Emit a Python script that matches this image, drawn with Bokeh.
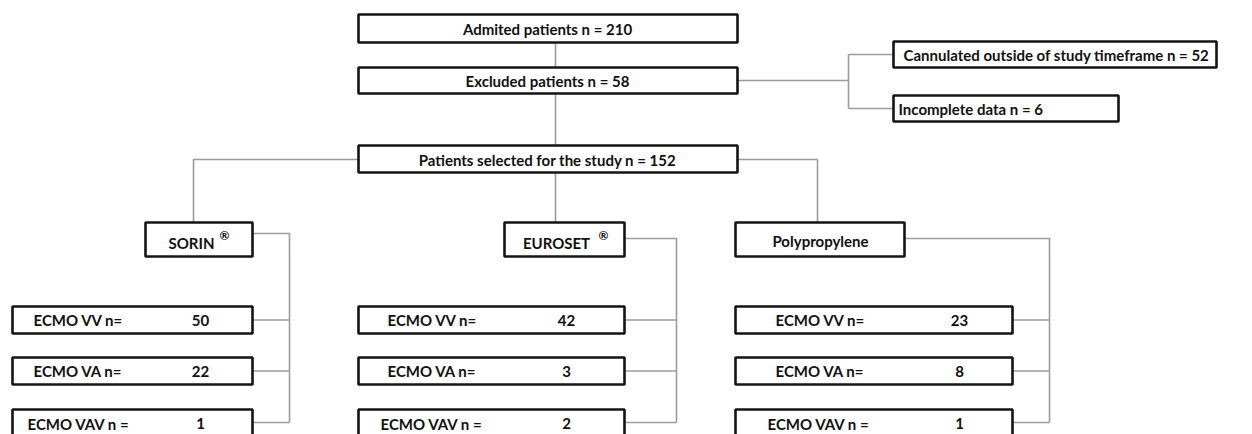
from bokeh.plotting import figure
from bokeh.models import Range1d
from bokeh.core.properties import value
from bokeh.embed import file_html
from bokeh.resources import INLINE

# ---- data ----
admitted = 210
excluded = 58
cannulated_outside = 52
incomplete_data = 6
selected = 152
devices = ["SORIN", "EUROSET", "Polypropylene"]
registered = [True, True, False]
modes = ["ECMO VV n=", "ECMO VA n=", "ECMO VAV n ="]
sorin_counts = [50, 22, 1]
euroset_counts = [42, 3, 2]
poly_counts = [23, 8, 1]
counts = [sorin_counts, euroset_counts, poly_counts]

# ---- layout (pixel-like data coordinates) ----
FONT = value("Lato")
BOX_COLOR = "#141414"
LINE_COLOR = "#9c9c9c"

p = figure(width=1252, height=434, x_range=Range1d(0, 1252), y_range=Range1d(434, 0),
           output_backend="svg", toolbar_location=None, min_border=0,
           x_axis_location=None, y_axis_location=None)
p.grid.visible = False
p.outline_line_color = None
p.background_fill_color = "white"
p.border_fill_color = "white"

# connectors
xs, ys = [], []
def seg(xv, yv):
    xs.append(xv); ys.append(yv)

seg([555, 555], [42, 145])
seg([737, 848], [80, 80])
seg([848, 848], [54, 108])
seg([848, 893], [54, 54])
seg([848, 893], [108, 108])
seg([358, 193, 193], [159, 159, 222])
seg([555, 555], [172, 222])
seg([737, 817, 817], [159, 159, 222])

dev_boxes = [(145, 252), (504, 624), (735, 904)]
ecmo_boxes = [(12, 252), (358, 624), (735, 1012)]
trunk_x = [289, 676, 1049]
dev_y = (222, 256)
dev_conn_y = [233, 238, 238]
ecmo_y = [(306, 333), (357, 384), (409, 445)]
ecmo_conn_y = [319.5, 370.5, 422]

for i in range(3):
    seg([dev_boxes[i][1], trunk_x[i], trunk_x[i]], [dev_conn_y[i], dev_conn_y[i], ecmo_conn_y[-1]])
    for j in range(3):
        seg([ecmo_boxes[i][1], trunk_x[i]], [ecmo_conn_y[j], ecmo_conn_y[j]])

p.multi_line(xs, ys, line_color=LINE_COLOR, line_width=1.6)

# boxes
L, R, T, B = [], [], [], []
def box(l, r, t, b):
    L.append(l); R.append(r); T.append(t); B.append(b)

box(358, 737, 14, 42)
box(358, 737, 67, 93)
box(893, 1216, 41, 67)
box(893, 1118, 95, 121)
box(358, 737, 145, 172)
for i in range(3):
    box(dev_boxes[i][0], dev_boxes[i][1], dev_y[0], dev_y[1])
    for j in range(3):
        box(ecmo_boxes[i][0], ecmo_boxes[i][1], ecmo_y[j][0], ecmo_y[j][1])

p.quad(left=L, right=R, top=T, bottom=B, fill_color="white",
       line_color=BOX_COLOR, line_width=2.6)

def txt(x, y, s, align="center", size="15px"):
    p.text(x=[x], y=[y], text=[s], text_font=FONT, text_font_style="bold",
           text_font_size=size, text_align=align, text_baseline="middle",
           text_color="#111111")

txt(547, 28.5, f"Admited patients n = {admitted}")
txt(547, 80.5, f"Excluded patients n = {excluded}")
txt(1056, 54.5, f"Cannulated outside of study timeframe n = {cannulated_outside}")
txt(898, 108.5, f"Incomplete data n = {incomplete_data}", align="left")
txt(547, 159, f"Patients selected for the study n = {selected}")

dev_text_x = [191, 556, 820]
reg_x = [224, 603, None]
for i in range(3):
    if registered[i]:
        txt(dev_text_x[i], 242, devices[i])
        txt(reg_x[i], 235, "\u00ae", size="12px")
    else:
        txt(dev_text_x[i], 240, devices[i])

label_x = [[33, 33, 27], [387, 387, 380], [775, 775, 767]]
num_x = [200, 566, 959]
for i in range(3):
    for j in range(3):
        yy = (ecmo_y[j][0] + ecmo_y[j][1]) / 2 if j < 2 else 423
        txt(label_x[i][j], yy, modes[j], align="left")
        txt(num_x[i], yy, str(counts[i][j]))

open("out.html", "w").write(file_html(p, INLINE))
